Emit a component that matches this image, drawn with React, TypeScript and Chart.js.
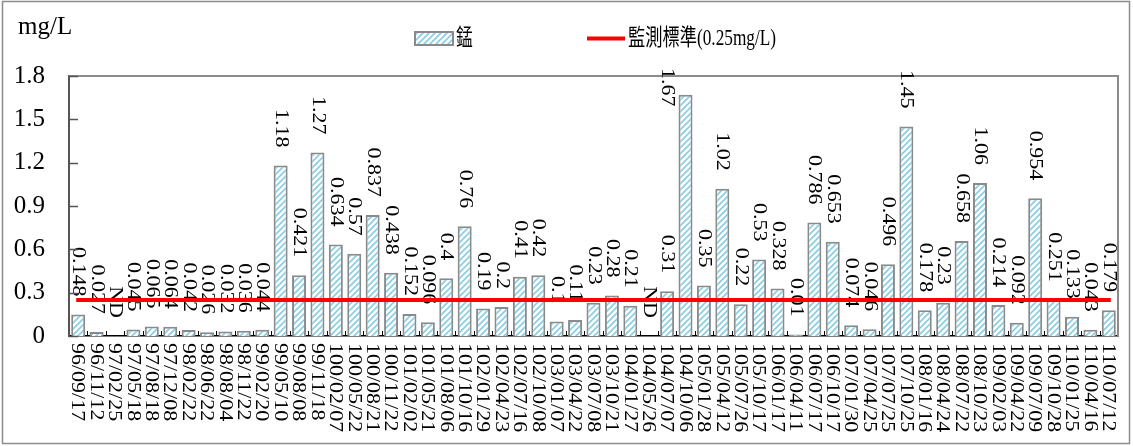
import React, { useEffect, useRef } from "react";
import { Chart, registerables } from "chart.js";

Chart.register(...registerables);

const categories = [
  "96/09/17", "96/11/12", "97/02/25", "97/05/18", "97/08/18", "97/12/08", "98/02/22", "98/06/22",
  "98/08/04", "98/11/22", "99/02/20", "99/05/10", "99/08/08", "99/11/18", "100/02/07", "100/05/22",
  "100/08/21", "100/11/22", "101/02/02", "101/05/21", "101/08/06", "101/10/16", "102/01/29", "102/04/23",
  "102/07/16", "102/10/08", "103/01/07", "103/04/22", "103/07/08", "103/10/21", "104/01/27", "104/05/26",
  "104/07/07", "104/10/06", "105/01/28", "105/04/12", "105/07/26", "105/10/17", "106/01/17", "106/04/11",
  "106/07/17", "106/10/17", "107/01/30", "107/04/25", "107/07/25", "107/10/25", "108/01/16", "108/04/24",
  "108/07/22", "108/10/23", "109/02/03", "109/04/22", "109/07/09", "109/10/28", "110/01/25", "110/04/16",
  "110/07/12",
];

// null = ND (not detected)
const manganese: (number | null)[] = [
  0.148, 0.027, null, 0.045, 0.065, 0.064, 0.042, 0.026,
  0.032, 0.036, 0.044, 1.18, 0.421, 1.27, 0.634, 0.57,
  0.837, 0.438, 0.152, 0.096, 0.4, 0.76, 0.19, 0.2,
  0.41, 0.42, 0.1, 0.11, 0.23, 0.28, 0.21, null,
  0.31, 1.67, 0.35, 1.02, 0.22, 0.53, 0.328, 0.01,
  0.786, 0.653, 0.074, 0.046, 0.496, 1.45, 0.178, 0.23,
  0.658, 1.06, 0.214, 0.092, 0.954, 0.251, 0.133, 0.043,
  0.179,
];

const standardValue = 0.25;
const standardSeries = categories.map(() => standardValue);

const yTickValues = [0, 0.3, 0.6, 0.9, 1.2, 1.5, 1.8];
const unitLabel = "mg/L";
const ndLabel = "ND";
const barLabel = "錳";
const lineLabel = "監測標準(0.25mg/L)";

const SERIF = '"Liberation Serif", "Noto Sans CJK TC", serif';

function makePattern(): CanvasPattern | string {
  const c = document.createElement("canvas");
  c.width = 6;
  c.height = 6;
  const g = c.getContext("2d");
  if (!g) return "#bfe6f2";
  g.fillStyle = "#ffffff";
  g.fillRect(0, 0, 6, 6);
  g.strokeStyle = "#86cde3";
  g.lineWidth = 1.6;
  g.beginPath();
  g.moveTo(-1, 7);
  g.lineTo(7, -1);
  g.moveTo(-1, 1);
  g.lineTo(1, -1);
  g.moveTo(5, 7);
  g.lineTo(7, 5);
  g.stroke();
  const p = g.createPattern(c, "repeat");
  return p || "#bfe6f2";
}

function drawRotated(ctx: CanvasRenderingContext2D, text: string, x: number, y: number, font: string, sx: number) {
  ctx.save();
  ctx.translate(x, y);
  ctx.rotate(Math.PI / 2);
  ctx.scale(1, sx);
  ctx.font = font;
  ctx.textAlign = "left";
  ctx.textBaseline = "middle";
  ctx.fillStyle = "#000";
  ctx.fillText(text, 0, 0);
  ctx.restore();
}

const decorPlugin = {
  id: "decor",
  beforeDatasetsDraw(chart: any) {
    const ctx: CanvasRenderingContext2D = chart.ctx;
    const { left, right, top, bottom } = chart.chartArea;
    const xs = chart.scales.x;
    const ys = chart.scales.y;
    const catW = (right - left) / categories.length;

    ctx.save();
    // plot top/right borders (drawn below the value labels)
    ctx.strokeStyle = "#8c8c8c";
    ctx.lineWidth = 2;
    ctx.beginPath();
    ctx.moveTo(left, top);
    ctx.lineTo(right, top);
    ctx.lineTo(right, bottom);
    ctx.stroke();

    const font = `22px ${SERIF}`;
    ctx.font = font;
    manganese.forEach((v, i) => {
      const text = v === null ? ndLabel : String(v);
      const topPx = ys.getPixelForValue(v === null ? 0 : v);
      let x = xs.getPixelForValue(i);
      const w = ctx.measureText(text).width;
      let start = topPx - 18 - w;
      if (start < 66) {
        start = 68;
        x -= catW;
      }
      drawRotated(ctx, text, x, start, font, 0.85);
    });
    ctx.restore();
  },
  afterDraw(chart: any) {
    const ctx: CanvasRenderingContext2D = chart.ctx;
    const { left, right, bottom } = chart.chartArea;
    const xs = chart.scales.x;
    const ys = chart.scales.y;
    const catW = (right - left) / categories.length;
    ctx.save();

    // outer frame
    ctx.strokeStyle = "#8c8c8c";
    ctx.lineWidth = 1.5;
    ctx.strokeRect(2.5, 1.5, 1127, 442);

    // y tick marks (inside)
    ctx.strokeStyle = "#555";
    ctx.lineWidth = 1.5;
    ctx.beginPath();
    yTickValues.forEach((t) => {
      const py = Math.round(ys.getPixelForValue(t)) + 0.5;
      ctx.moveTo(left, py);
      ctx.lineTo(left + 9, py);
    });
    ctx.stroke();

    // x tick marks (inside, at category boundaries)
    ctx.strokeStyle = "#000";
    ctx.lineWidth = 1;
    ctx.beginPath();
    for (let i = 1; i < categories.length; i++) {
      const px = Math.round(left + i * catW) + 0.5;
      ctx.moveTo(px, bottom);
      ctx.lineTo(px, bottom - 5);
    }
    ctx.stroke();

    // x labels rotated
    const xfont = `22px ${SERIF}`;
    categories.forEach((c, i) => {
      drawRotated(ctx, c, xs.getPixelForValue(i) - 1, bottom + 7, xfont, 0.82);
    });

    // unit
    ctx.fillStyle = "#000";
    ctx.font = `25px ${SERIF}`;
    ctx.textAlign = "left";
    ctx.textBaseline = "alphabetic";
    ctx.fillText(unitLabel, 18, 34);

    // legend
    const ds = chart.data.datasets;
    const barDs = ds.find((d: any) => d.type === "bar");
    const lineDs = ds.find((d: any) => d.type === "line");
    ctx.fillStyle = barDs.backgroundColor;
    ctx.fillRect(415, 32, 38, 13);
    ctx.strokeStyle = barDs.borderColor;
    ctx.lineWidth = 2;
    ctx.strokeRect(415, 32, 38, 13);
    const lfont = `23px ${SERIF}`;
    ctx.fillStyle = "#000";
    ctx.font = lfont;
    ctx.textBaseline = "middle";
    ctx.save();
    ctx.translate(456, 39);
    ctx.scale(0.73, 1);
    ctx.fillText(barDs.label, 0, 0);
    ctx.restore();

    ctx.strokeStyle = lineDs.borderColor;
    ctx.lineWidth = 4;
    ctx.beginPath();
    ctx.moveTo(587, 38.5);
    ctx.lineTo(625, 38.5);
    ctx.stroke();
    ctx.save();
    ctx.translate(628, 39);
    ctx.scale(0.75, 1);
    ctx.fillText(lineDs.label, 0, 0);
    ctx.restore();

    ctx.restore();
  },
};

export default function App() {
  const ref = useRef<HTMLCanvasElement | null>(null);

  useEffect(() => {
    if (!ref.current) return;
    const pattern = makePattern();
    const chart = new Chart(ref.current, {
      type: "bar",
      data: {
        labels: categories,
        datasets: [
          {
            type: "line",
            label: lineLabel,
            data: standardSeries,
            borderColor: "#ff0000",
            borderWidth: 4,
            pointRadius: 0,
            borderCapStyle: "square",
            fill: false,
            order: 0,
          } as any,
          {
            type: "bar",
            label: barLabel,
            data: manganese,
            backgroundColor: pattern,
            borderColor: "#8a8a8a",
            borderWidth: 2,
            barPercentage: 0.76,
            categoryPercentage: 1,
            order: 1,
          } as any,
        ],
      },
      options: {
        responsive: false,
        animation: false,
        layout: { padding: { top: 76, right: 15, left: 0, bottom: 0 } },
        plugins: {
          legend: { display: false },
          tooltip: { enabled: false },
          title: { display: false },
        },
        scales: {
          x: {
            type: "category",
            offset: true,
            ticks: { display: false },
            grid: { display: false, drawTicks: false },
            border: { display: true, color: "#000", width: 1.5 },
            afterFit: (s: any) => {
              s.height = 110;
            },
          },
          y: {
            min: 0,
            max: 1.8,
            afterBuildTicks: (s: any) => {
              s.ticks = yTickValues.map((v) => ({ value: v }));
            },
            ticks: {
              color: "#000",
              padding: 24,
              font: { family: SERIF, size: 25 },
              callback: (v: any) => String(Math.round(Number(v) * 10) / 10),
            },
            grid: { display: false, drawTicks: false },
            border: { display: true, color: "#555", width: 2 },
            afterFit: (s: any) => {
              s.width = 69;
            },
          },
        },
      } as any,
      plugins: [decorPlugin],
    });
    return () => chart.destroy();
  }, []);

  return (
    <div style={{ position: "absolute", left: 0, top: 0, width: 1133, height: 446, background: "#fff" }}>
      <canvas ref={ref} width={1133} height={446} style={{ display: "block" }} />
    </div>
  );
}
